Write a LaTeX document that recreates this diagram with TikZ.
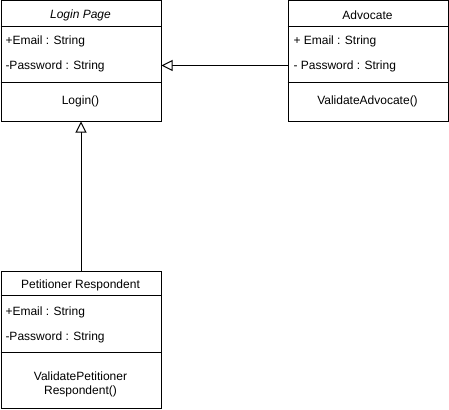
\documentclass[tikz,border=0pt]{standalone}
\usepackage{fontspec}
\setmainfont{Liberation Sans}
\usetikzlibrary{arrows.meta}
\begin{document}
\begin{tikzpicture}[x=1pt,y=-1pt, line width=1pt,
 cls/.style={draw, rectangle, minimum width=160pt, inner sep=0pt, anchor=north west},
 txt/.style={font=\fontsize{12}{14}\selectfont, inner sep=0pt},
 lt/.style={txt, anchor=west},
 gen/.style={-{Triangle[open,length=11pt,width=11pt,fill=white]}}]
\useasboundingbox (0,0) rectangle (449,409);
% Login Page
\node[cls, minimum height=120pt] (login) at (0.5,0.5) {};
\draw ([yshift=-26pt]login.north west) -- ([yshift=-26pt]login.north east);
\draw ([yshift=-82pt]login.north west) -- ([yshift=-82pt]login.north east);
\node[txt] (loginT) at (80.5,15) {\textit{Login Page}};
\node[lt] (loginE) at (5,41) {+Email : String};
\node[lt] (loginP) at (5,66) {-Password : String};
\node[txt] (loginM) at (80.5,101) {Login()};
% Advocate
\node[cls, minimum height=120pt] (adv) at (287.5,0.5) {};
\draw ([yshift=-26pt]adv.north west) -- ([yshift=-26pt]adv.north east);
\draw ([yshift=-82pt]adv.north west) -- ([yshift=-82pt]adv.north east);
\node[txt] (advT) at (367.5,15) {Advocate};
\node[lt] (advE) at (293,41) {+ Email : String};
\node[lt] (advP) at (293,66) {- Password : String};
\node[txt] (advM) at (367.5,101) {ValidateAdvocate()};
% Petitioner Respondent
\node[cls, minimum height=137pt] (pet) at (0.5,270.5) {};
\draw ([yshift=-25pt]pet.north west) -- ([yshift=-25pt]pet.north east);
\draw ([yshift=-82pt]pet.north west) -- ([yshift=-82pt]pet.north east);
\node[txt] (petT) at (80.5,285) {Petitioner Respondent};
\node[lt] (petE) at (5,312) {+Email : String};
\node[lt] (petP) at (5,337) {-Password : String};
\node[txt, align=center, font=\fontsize{12}{14}\selectfont] (petM) at (80.5,384) {ValidatePetitioner\\Respondent()};
% connectors
\coordinate (lvl) at (224,65.5);
\draw[gen] (lvl -| adv.west) -- (lvl -| login.east);
\draw[gen] (pet.north) -- (login.south);
\end{tikzpicture}
\end{document}
